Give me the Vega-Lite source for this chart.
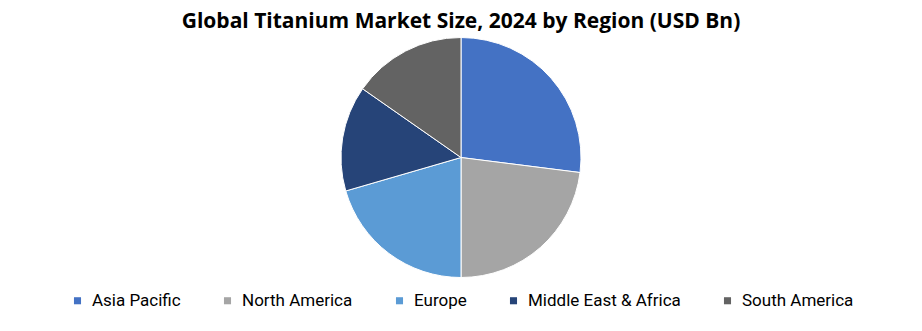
{
  "$schema": "https://vega.github.io/schema/vega-lite/v6.json",
  "width": 922,
  "height": 331,
  "autosize": {"type": "fit", "contains": "padding"},
  "padding": {"top": 22, "bottom": 22, "left": 5, "right": 5},
  "background": "white",
  "title": {
    "text": "Global Titanium Market Size, 2024 by Region (USD Bn)",
    "font": "Open Sans",
    "fontSize": 21,
    "fontWeight": "bold",
    "color": "#000000",
    "anchor": "middle",
    "offset": 4
  },
  "data": {
    "values": [
      {"region": "Asia Pacific", "value": 27.0, "ord": 1},
      {"region": "North America", "value": 23.0, "ord": 2},
      {"region": "Europe", "value": 20.5, "ord": 3},
      {"region": "Middle East & Africa", "value": 14.2, "ord": 4},
      {"region": "South America", "value": 15.3, "ord": 5}
    ]
  },
  "mark": {"type": "arc", "outerRadius": 120, "stroke": "white", "strokeWidth": 1},
  "encoding": {
    "theta": {"field": "value", "type": "quantitative", "stack": true},
    "order": {"field": "ord", "type": "quantitative"},
    "color": {
      "field": "region",
      "type": "nominal",
      "scale": {
        "domain": ["Asia Pacific", "North America", "Europe", "Middle East & Africa", "South America"],
        "range": ["#4472C4", "#A5A5A5", "#5B9BD5", "#264478", "#636363"]
      },
      "legend": {
        "title": null,
        "orient": "bottom",
        "direction": "horizontal",
        "columns": 5,
        "symbolType": "square",
        "symbolSize": 50,
        "symbolStrokeWidth": 0,
        "labelFont": "Roboto",
        "labelFontSize": 17,
        "labelColor": "#000000",
        "columnPadding": 38,
        "labelOffset": 6,
        "offset": 24
      }
    }
  },
  "config": {
    "view": {"stroke": null},
    "legend": {"layout": {"bottom": {"anchor": "middle"}}}
  }
}
